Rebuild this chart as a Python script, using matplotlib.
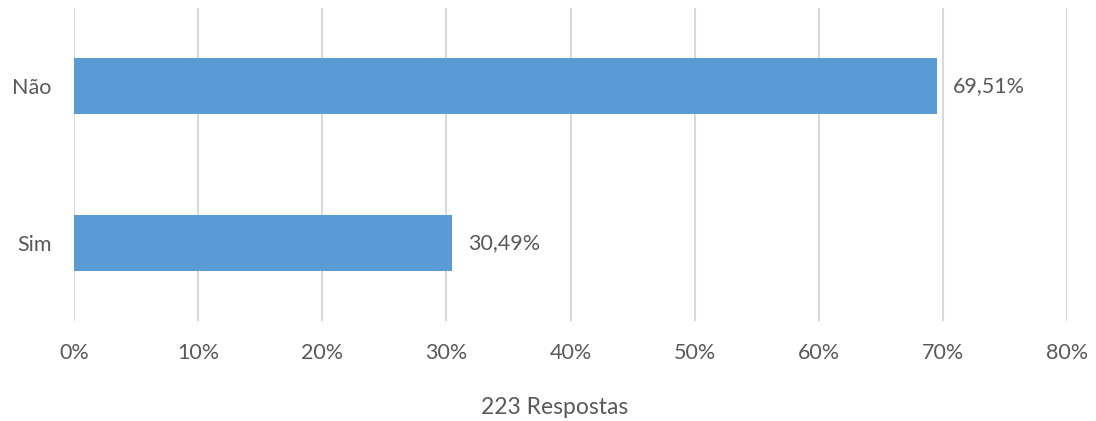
import matplotlib.pyplot as plt
from matplotlib.ticker import FuncFormatter

# Survey answers (share of 223 responses)
categories = ['Sim', 'Não']
values = [30.49, 69.51]
x_ticks = [0, 10, 20, 30, 40, 50, 60, 70, 80]
x_label = '223 Respostas'

bar_color = '#5B9BD5'
grid_color = '#D9D9D9'
text_color = '#595959'

plt.rcParams['font.family'] = ['Lato', 'DejaVu Sans']

fig = plt.figure(figsize=(10.96, 4.21), dpi=100)
ax = fig.add_axes([74 / 1096, 100 / 421, 993 / 1096, 313 / 421])

ax.barh(range(len(categories)), values, height=0.36, color=bar_color, zorder=3)

# value labels to the right of each bar
for i, v in enumerate(values):
    ax.text(v + 1.3, i, f"{v:.2f}%".replace('.', ','), va='center', ha='left',
            fontsize=15.5, color=text_color)

ax.set_xlim(0, 80)
ax.set_ylim(-0.5, 1.5)
ax.set_xticks(x_ticks)
ax.xaxis.set_major_formatter(FuncFormatter(lambda x, pos: f"{x:.0f}%"))
ax.set_yticks(range(len(categories)))
ax.set_yticklabels(categories)

ax.grid(axis='x', color=grid_color, linewidth=1.5, zorder=0)
for s in ax.spines.values():
    s.set_visible(False)
ax.tick_params(axis='both', length=0, labelsize=15.5, labelcolor=text_color)
ax.tick_params(axis='x', pad=16)
ax.tick_params(axis='y', pad=16)

fig.text(555 / 1096, 14 / 421, x_label, ha='center', va='center',
         fontsize=16.5, color=text_color)

fig.savefig('out.png', dpi=100)
